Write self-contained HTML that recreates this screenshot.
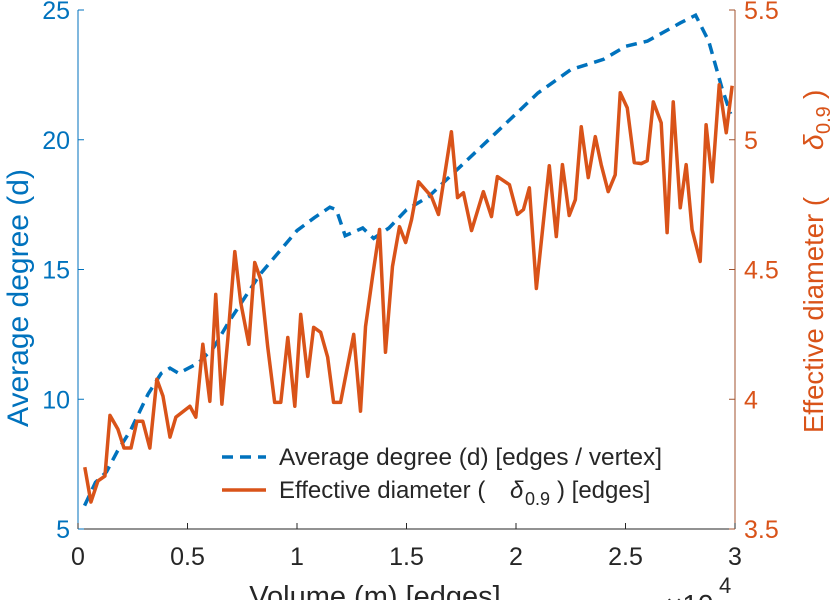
<!DOCTYPE html>
<html><head><meta charset="utf-8"><style>
body{margin:0;background:#fff;width:838px;height:600px;overflow:hidden}
svg{display:block;font-family:"Liberation Sans",sans-serif}
</style></head><body>
<svg id="c" width="838" height="600"></svg>
<script>
const blueX=[0.03,0.08,0.13,0.18,0.24,0.32,0.38,0.42,0.46,0.55,0.62,0.69,0.83,0.92,1.0,1.08,1.15,1.18,1.22,1.3,1.35,1.42,1.5,1.6,1.75,1.9,2.0,2.1,2.25,2.4,2.5,2.6,2.75,2.82,2.88,2.94,2.98];
const blueD=[5.9,6.8,7.2,8.0,8.8,10.2,11.0,11.2,11.0,11.4,12.0,13.0,14.8,15.7,16.5,17.0,17.4,17.3,16.3,16.6,16.2,16.6,17.3,17.8,19.0,20.2,21.0,21.8,22.7,23.1,23.6,23.8,24.5,24.8,23.8,22.0,21.0];
const orX=[0.031,0.059,0.091,0.123,0.146,0.182,0.210,0.242,0.269,0.296,0.328,0.360,0.388,0.420,0.447,0.511,0.538,0.570,0.602,0.629,0.657,0.684,0.716,0.743,0.780,0.807,0.834,0.866,0.898,0.926,0.958,0.990,1.017,1.049,1.076,1.108,1.140,1.167,1.199,1.259,1.290,1.313,1.345,1.377,1.404,1.436,1.468,1.496,1.523,1.555,1.614,1.646,1.705,1.733,1.760,1.797,1.851,1.888,1.915,1.970,2.006,2.034,2.061,2.093,2.152,2.184,2.212,2.243,2.271,2.298,2.330,2.362,2.389,2.421,2.453,2.476,2.508,2.540,2.572,2.599,2.627,2.663,2.690,2.718,2.750,2.777,2.804,2.841,2.868,2.896,2.928,2.960,2.987];
const orY=[3.738,3.604,3.685,3.704,3.938,3.885,3.812,3.812,3.915,3.915,3.812,4.077,4.012,3.854,3.931,3.973,3.931,4.212,3.992,4.404,3.981,4.231,4.569,4.373,4.212,4.527,4.462,4.204,3.988,3.988,4.238,3.973,4.327,4.088,4.277,4.258,4.162,3.988,3.988,4.250,3.954,4.281,4.473,4.654,4.181,4.512,4.665,4.604,4.692,4.838,4.781,4.712,5.031,4.777,4.796,4.650,4.800,4.704,4.858,4.827,4.712,4.731,4.815,4.427,4.900,4.627,4.904,4.708,4.769,5.050,4.854,5.012,4.904,4.800,4.865,5.181,5.123,4.912,4.908,4.919,5.146,5.065,4.642,5.146,4.738,4.904,4.654,4.531,5.058,4.838,5.212,5.027,5.208];
const xTicks=[0,0.5,1,1.5,2,2.5,3];
const xTickLabels=["0","0.5","1","1.5","2","2.5","3"];
const lTicks=[5,10,15,20,25];
const rTicks=[3.5,4,4.5,5,5.5];
const rTickLabels=["3.5","4","4.5","5","5.5"];

const L=78,R=735,T=10,B=529;
const sx=v=>L+(v-0)/(3-0)*(R-L);
const syL=v=>B-(v-5)/(25-5)*(B-T);
const syR=v=>B-(v-3.5)/(5.5-3.5)*(B-T);
const svg=document.getElementById('c');
const NS='http://www.w3.org/2000/svg';
function el(t,a,txt){const e=document.createElementNS(NS,t);for(const k in a)e.setAttribute(k,a[k]);if(txt!==undefined)e.textContent=txt;svg.appendChild(e);return e;}

let e=el('line',{x1:L,y1:B,x2:R,y2:B,stroke:'#262626','stroke-width':1});


e=el('line',{x1:L,y1:T,x2:L,y2:B,stroke:'#0072BD','stroke-width':1});


e=el('line',{x1:R,y1:T,x2:R,y2:B,stroke:'#A0522D','stroke-width':1});



xTicks.forEach((v,i)=>{
  let t=el('line',{x1:sx(v),y1:B,x2:sx(v),y2:B-6,stroke:'#262626'});
  
  
  t=el('text',{x:sx(v),y:B+36,'text-anchor':'middle','font-size':25,fill:'#262626'},xTickLabels[i]);
  
  
});
lTicks.forEach(v=>{
  let t=el('line',{x1:L,y1:syL(v),x2:L+6,y2:syL(v),stroke:'#0072BD'});
  
  
  t=el('text',{x:L-8,y:syL(v)+9,'text-anchor':'end','font-size':25,fill:'#0072BD'},String(v));
  
  
});
rTicks.forEach((v,i)=>{
  let t=el('line',{x1:R,y1:syR(v),x2:R-6,y2:syR(v),stroke:'#A0522D'});
  
  
  t=el('text',{x:R+9,y:syR(v)+9,'font-size':25,fill:'#D95319'},rTickLabels[i]);
  
  
});

e=el('polyline',{points:blueX.map((v,i)=>sx(v)+','+syL(blueD[i])).join(' '),fill:'none',stroke:'#0072BD','stroke-width':3.5,'stroke-dasharray':'11 7'});


e=el('polyline',{points:orX.map((v,i)=>sx(v)+','+syR(orY[i])).join(' '),fill:'none',stroke:'#D95319','stroke-width':3.5,'stroke-linejoin':'round'});



e=el('text',{x:375,y:606,'text-anchor':'middle','font-size':29,fill:'#262626'},'Volume (m) [edges]');


e=el('text',{x:666,y:614,'font-size':28,fill:'#262626'},'×10');


e=el('text',{x:719,y:593,'font-size':22,fill:'#262626'},'4');


e=el('text',{x:0,y:0,'text-anchor':'middle','font-size':30,fill:'#0072BD',transform:'translate(28,298) rotate(-90)'},'Average degree (d)');


e=el('text',{x:0,y:0,'text-anchor':'start','font-size':28,fill:'#D95319',transform:'translate(823,433) rotate(-90)','textLength':236,'lengthAdjust':'spacingAndGlyphs'},'Effective diameter (');


e=el('text',{x:0,y:0,'text-anchor':'start','font-size':28,'font-style':'italic',fill:'#D95319',transform:'translate(823,150) rotate(-90)'},'δ');


e=el('text',{x:0,y:0,'text-anchor':'start','font-size':20,fill:'#D95319',transform:'translate(830,134) rotate(-90)'},'0.9');


e=el('text',{x:0,y:0,'text-anchor':'start','font-size':28,fill:'#D95319',transform:'translate(823,99) rotate(-90)'},')');



e=el('line',{x1:222,y1:457,x2:266,y2:457,stroke:'#0072BD','stroke-width':3.5,'stroke-dasharray':'11 7'});


e=el('text',{x:279,y:465,'font-size':24,fill:'#262626','textLength':383,'lengthAdjust':'spacingAndGlyphs'},'Average degree (d) [edges / vertex]');


e=el('line',{x1:222,y1:490,x2:266,y2:490,stroke:'#D95319','stroke-width':3.5});


e=el('text',{x:279,y:498,'font-size':24,fill:'#262626'},'Effective diameter (');


e=el('text',{x:510,y:498,'font-size':24,'font-style':'italic',fill:'#262626'},'δ');


e=el('text',{x:525,y:505,'font-size':18,fill:'#262626'},'0.9');


e=el('text',{x:557,y:498,'font-size':24,fill:'#262626'},') [edges]');


</script>
</body></html>
